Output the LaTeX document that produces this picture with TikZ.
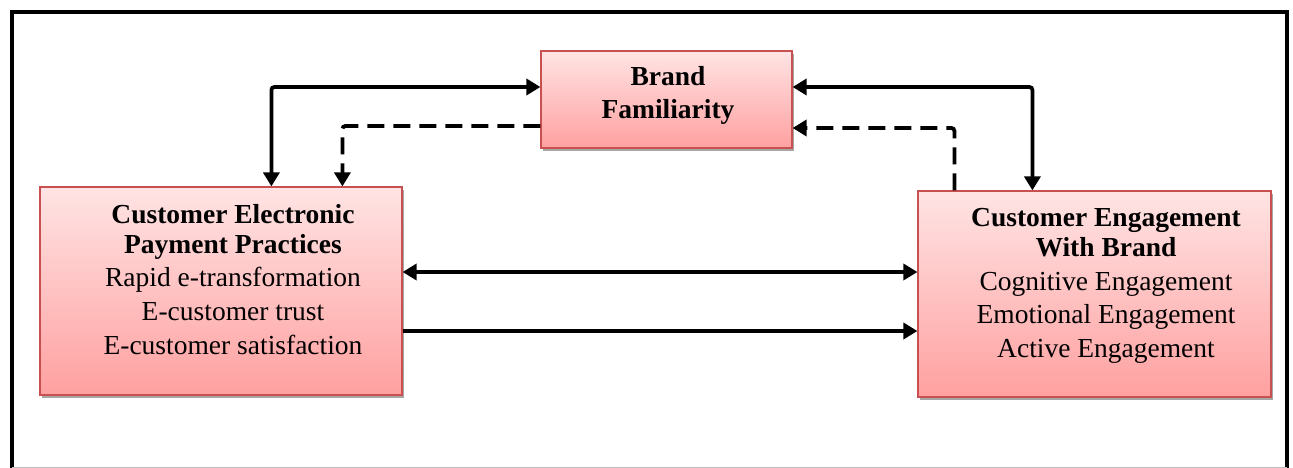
\documentclass[tikz,border=0pt]{standalone}
\usepackage{fontspec}
\setmainfont{Liberation Serif}
\usetikzlibrary{arrows.meta,shadows,calc}
\definecolor{boxtop}{RGB}{255,228,228}
\definecolor{boxbot}{RGB}{255,160,160}
\definecolor{boxedge}{RGB}{200,80,80}
\tikzset{
  cbox/.style={draw=boxedge, line width=1.2pt, top color=boxtop, bottom color=boxbot,
    minimum width=#1, inner sep=0pt,
    drop shadow={shadow xshift=2pt, shadow yshift=-3pt, opacity=0.35, fill=black}},
  ctext/.style={align=center, inner sep=0pt, anchor=north, font=\fontsize{27.5}{33.8}\selectfont},
  link/.style={line width=3.8pt, rounded corners=3pt},
  dlink/.style={link, dash pattern=on 17pt off 9pt},
  tip/.style={-{Triangle[length=14pt,width=16pt]}},
  tips/.style={{Triangle[length=14pt,width=16pt]}-{Triangle[length=14pt,width=16pt]}},
}
\begin{document}
\begin{tikzpicture}[x=1pt,y=-1pt]
\useasboundingbox (0,0) rectangle (1293,468);
% frame
\draw[line width=4pt] (12,470) -- (12,12) -- (1287,12) -- (1287,470);
\draw[gray!50, line width=1pt] (12,467) -- (1287,467);
% boxes
\node[cbox=251pt, minimum height=97pt] (bf) at (666.5,99.5) {};
\node[cbox=362pt, minimum height=208pt] (cep) at (221,291) {};
\node[cbox=353pt, minimum height=206pt] (ceb) at (1094.5,294) {};
% texts
\node[ctext] (bft) at (668,66) {\textbf{Brand}\\[-1pt]\textbf{Familiarity}};
\node[ctext] (cept) at (233,204) {\textbf{Customer Electronic}\\[-4pt]\textbf{Payment Practices}\\Rapid e-transformation\\E-customer trust\\E-customer satisfaction};
\node[ctext] (cebt) at (1106,208) {\textbf{Customer Engagement}\\[-4pt]\textbf{With Brand}\\Cognitive Engagement\\Emotional Engagement\\Active Engagement};
% connectors
\draw[link,tips] ([yshift=12.5pt]bf.west) -| ([xshift=232pt]cep.north west);
\draw[dlink,tip] ([yshift=-26.5pt]bf.west) -| ([xshift=303pt]cep.north west);
\draw[link,tips] ([yshift=12.5pt]bf.east) -| ([xshift=115pt]ceb.north west);
\draw[dlink,tip] ([xshift=37pt]ceb.north west) |- ([yshift=-28.5pt]bf.east);
\coordinate (m1) at ([yshift=19pt]cep.east);
\coordinate (m2) at ([yshift=-40pt]cep.east);
\draw[link,tips] (m1) -- (m1 -| ceb.west);
\draw[link,tip] (m2) -- (m2 -| ceb.west);
\end{tikzpicture}
\end{document}
